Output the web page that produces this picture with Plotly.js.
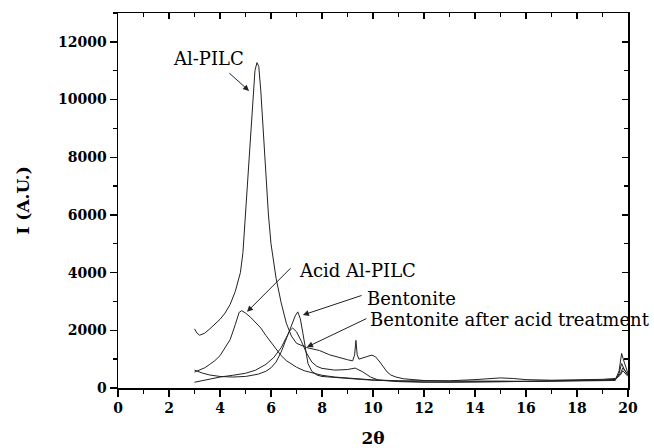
<!DOCTYPE html>
<html>
<head>
<meta charset="utf-8">
<script src="https://cdn.plot.ly/plotly-3.0.1.min.js"></script>
<style>html,body{margin:0;padding:0;background:#fff;}#chart{width:654px;height:448px;}</style>
</head>
<body>
<div id="chart"></div>
<script>
// Al-PILC
const xAlPILC = [3.0,3.1,3.2,3.4,3.6,3.8,4.0,4.2,4.4,4.6,4.8,4.9,5.0,5.1,5.2,5.3,5.37,5.45,5.52,5.6,5.7,5.8,5.9,6.0,6.2,6.4,6.6,6.8,7.0,7.4,7.9,8.3,8.7,9.0,9.2,9.28,9.33,9.38,9.45,9.6,9.8,9.96,10.1,10.27,10.4,10.55,10.7,10.9,11.2,12,13,14,15,16,17,18,19,19.5,19.65,19.75,19.85,20];
const yAlPILC = [2050,1900,1830,1900,2050,2200,2380,2600,2900,3350,4000,4700,6000,7200,8700,10100,11000,11280,11150,10300,8800,7100,6000,5000,3800,2950,2250,1800,1550,1400,1300,1150,1040,980,940,1150,1650,1150,1000,1050,1100,1140,1080,900,760,560,450,380,320,260,240,250,240,230,240,250,270,300,500,850,650,450];

// Acid Al-PILC
const xAcidAlPILC = [3.0,3.2,3.4,3.6,3.8,4.0,4.2,4.4,4.6,4.75,4.85,5.0,5.2,5.4,5.6,5.8,6.0,6.2,6.4,6.6,6.8,7.0,7.3,7.6,8.0,8.5,9.0,9.5,10,11,12,13,14,14.5,15,15.5,16,17,18,19,19.5,19.7,19.8,19.9,20];
const yAcidAlPILC = [550,620,700,820,950,1120,1380,1680,2200,2620,2680,2600,2450,2280,2080,1820,1580,1330,1120,950,820,720,600,520,440,380,340,310,280,250,240,250,290,330,350,330,290,270,280,300,330,500,700,550,450];

// Bentonite
const xBentonite = [3.0,3.3,3.6,4.0,4.5,5.0,5.5,5.8,6.0,6.2,6.4,6.6,6.8,6.95,7.05,7.15,7.25,7.35,7.45,7.6,7.8,8.0,8.5,9.0,9.5,10,11,12,13,14,15,16,17,18,19,19.5,19.65,19.75,19.85,20];
const yBentonite = [620,520,450,400,380,400,480,580,700,900,1250,1700,2150,2500,2640,2400,1900,1300,850,580,450,400,360,330,300,270,230,210,200,210,220,210,220,230,240,260,600,1200,900,500];

// Bentonite after acid treatment
const xBentAcid = [3.0,3.3,3.6,4.0,4.5,5.0,5.4,5.8,6.1,6.4,6.6,6.75,6.85,7.0,7.2,7.4,7.6,7.8,8.0,8.5,9.0,9.3,9.6,9.9,10.2,11,12,13,14,15,16,17,18,19,19.5,19.7,19.8,19.9,20];
const yBentAcid = [200,260,320,380,440,510,620,820,1050,1400,1750,2000,2080,1950,1600,1200,900,750,680,620,640,690,560,380,280,220,200,200,210,220,230,240,260,280,300,450,600,500,400];

const yTitle = 'I (A.U.)';
const xTitle = '2θ';

const lineStyle = {color:'#222', width:1};
const traces = [
  {x:xAlPILC, y:yAlPILC, type:'scatter', mode:'lines', line:lineStyle, name:'Al-PILC'},
  {x:xAcidAlPILC, y:yAcidAlPILC, type:'scatter', mode:'lines', line:lineStyle, name:'Acid Al-PILC'},
  {x:xBentonite, y:yBentonite, type:'scatter', mode:'lines', line:lineStyle, name:'Bentonite'},
  {x:xBentAcid, y:yBentAcid, type:'scatter', mode:'lines', line:lineStyle, name:'Bentonite after acid treatment'}
];

const serif = 'DejaVu Serif, Liberation Serif, serif';
const tickFont = {family:serif, size:14, color:'#000', weight:'bold'};
const labelFont = {family:serif, size:18, color:'#000'};
const titleFont = {family:serif, size:17, color:'#000', weight:'bold'};

function textAnn(x, y, t, xanchor){
  return {x:x, y:y, xref:'x', yref:'y', text:t, showarrow:false, xanchor:xanchor, yanchor:'middle', font:labelFont};
}
function arrowAnn(x, y, ax, ay){
  return {x:x, y:y, ax:ax, ay:ay, xref:'x', yref:'y', axref:'x', ayref:'y', text:'', showarrow:true,
          arrowhead:2, arrowsize:1.2, arrowwidth:1, arrowcolor:'#222', standoff:0, startstandoff:0};
}

const layout = {
  width:654, height:448,
  margin:{l:118, r:26, t:13, b:60},
  paper_bgcolor:'#fff', plot_bgcolor:'#fff',
  showlegend:false,
  font:{family:serif, color:'#000'},
  xaxis:{
    range:[0,20], tickmode:'linear', dtick:2, tick0:0, ticks:'outside', ticklen:7, tickwidth:1.3, tickcolor:'#000',
    showline:true, linecolor:'#000', linewidth:1.5, showgrid:false, zeroline:false,
    tickfont:tickFont, tickformat:'d',
    minor:{tickmode:'linear', tick0:0, dtick:1, ticks:'outside', ticklen:4, tickwidth:1.3, tickcolor:'#000', showgrid:false},
    title:{text:xTitle, font:titleFont, standoff:22},
    automargin:false
  },
  yaxis:{
    range:[0,13000], tickmode:'linear', dtick:2000, tick0:0, ticks:'outside', ticklen:7, tickwidth:1.3, tickcolor:'#000',
    showline:true, linecolor:'#000', linewidth:1.5, showgrid:false, zeroline:false,
    tickfont:tickFont, tickformat:'d',
    minor:{tickmode:'linear', tick0:0, dtick:1000, ticks:'outside', ticklen:4, tickwidth:1.3, tickcolor:'#000', showgrid:false},
    automargin:false
  },
  xaxis2:{
    overlaying:'x', side:'top', range:[0,20], tickmode:'linear', dtick:2, tick0:0, ticks:'inside', ticklen:6, tickwidth:1.3, tickcolor:'#000',
    showline:true, linecolor:'#000', linewidth:1.5, showgrid:false, zeroline:false, showticklabels:false,
    minor:{tickmode:'linear', tick0:0, dtick:1, ticks:'inside', ticklen:4, tickwidth:1.3, tickcolor:'#000', showgrid:false}
  },
  yaxis2:{
    overlaying:'y', side:'right', range:[0,13000], tickmode:'linear', dtick:2000, tick0:0, ticks:'inside', ticklen:6, tickwidth:1.3, tickcolor:'#000',
    showline:true, linecolor:'#000', linewidth:1.5, showgrid:false, zeroline:false, showticklabels:false,
    minor:{tickmode:'linear', tick0:0, dtick:1000, ticks:'inside', ticklen:4, tickwidth:1.3, tickcolor:'#000', showgrid:false}
  },
  annotations:[
    {x:-96/510, y:0.5, xref:'paper', yref:'paper', text:yTitle, textangle:-90, showarrow:false,
     xanchor:'center', yanchor:'middle', font:titleFont},
    textAnn(3.53, 11440, 'Al-PILC', 'center'),
    arrowAnn(5.14, 10300, 4.31, 10960),
    textAnn(7.02, 4090, 'Acid Al-PILC', 'left'),
    arrowAnn(5.06, 2640, 6.82, 4200),
    textAnn(9.69, 3120, 'Bentonite', 'left'),
    arrowAnn(7.25, 2530, 9.61, 3225),
    textAnn(9.8, 2360, 'Bentonite after acid treatment', 'left'),
    arrowAnn(7.41, 1420, 9.8, 2430)
  ]
};

// invisible trace to activate the mirror axes
traces.push({x:[0], y:[0], xaxis:'x2', yaxis:'y2', type:'scatter', mode:'markers', marker:{opacity:0}, hoverinfo:'skip', showlegend:false});

Plotly.newPlot('chart', traces, layout, {displayModeBar:false, staticPlot:true});
</script>
</body>
</html>
